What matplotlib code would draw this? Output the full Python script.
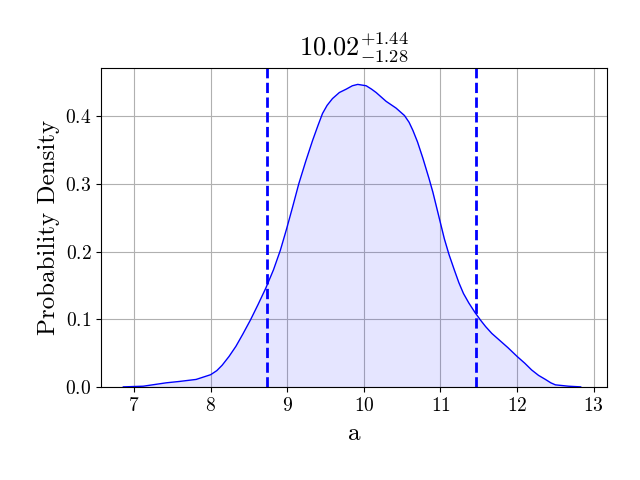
import matplotlib
matplotlib.use("Agg")
import matplotlib.pyplot as plt

plt.rcParams['font.family'] = 'serif'
plt.rcParams['font.serif'] = ['cmr10']
plt.rcParams['mathtext.fontset'] = 'cm'
plt.rcParams['axes.formatter.use_mathtext'] = True

# KDE curve
x_vals = [6.86, 7.12, 7.42, 7.59, 7.81, 8.0, 8.08, 8.15, 8.24, 8.33, 8.42, 8.52,
          8.62, 8.72, 8.82, 8.91, 8.99, 9.07, 9.15, 9.24, 9.33, 9.40, 9.46,
          9.52, 9.59, 9.68, 9.77, 9.85, 9.92, 10.03, 10.10, 10.16, 10.29, 10.42,
          10.53, 10.59, 10.64, 10.70, 10.77, 10.85, 10.90, 10.95, 11.0, 11.05,
          11.11, 11.18, 11.24, 11.30, 11.37, 11.45, 11.52, 11.59, 11.67, 11.76,
          11.88, 12.0, 12.10, 12.19, 12.28, 12.37, 12.44, 12.50, 12.67, 12.83]
density = [0.0, 0.001, 0.006, 0.008, 0.011, 0.018, 0.024, 0.032, 0.045, 0.060,
           0.078, 0.099, 0.122, 0.146, 0.173, 0.202, 0.233, 0.266, 0.300, 0.333,
           0.364, 0.386, 0.404, 0.416, 0.426, 0.435, 0.440, 0.445, 0.447, 0.445,
           0.440, 0.435, 0.422, 0.412, 0.401, 0.391, 0.379, 0.362, 0.338, 0.308,
           0.288, 0.265, 0.242, 0.219, 0.196, 0.173, 0.154, 0.138, 0.124, 0.110,
           0.099, 0.089, 0.079, 0.070, 0.058, 0.045, 0.035, 0.025, 0.017, 0.011,
           0.006, 0.003, 0.001, 0.0]

median = 10.02
err_hi = 1.44
err_lo = 1.28

fig, ax = plt.subplots(figsize=(6.4, 4.8))
fig.subplots_adjust(left=0.158, right=0.948, bottom=0.194, top=0.858)

ax.plot(x_vals, density, color='blue', lw=1)
ax.fill_between(x_vals, density, color='blue', alpha=0.1, lw=0)
ax.axvline(median - err_lo, color='blue', ls='--', lw=2)
ax.axvline(median + err_hi, color='blue', ls='--', lw=2)

ax.set_xlim(6.57, 13.17)
ax.set_ylim(0, 0.471)
ax.set_xticks([7, 8, 9, 10, 11, 12, 13])
ax.set_yticks([0.0, 0.1, 0.2, 0.3, 0.4])
ax.tick_params(labelsize=14)
ax.grid(True)
ax.set_axisbelow(True)

ax.set_xlabel('a', fontsize=18, labelpad=6)
ax.set_ylabel('Probability Density', fontsize=18)
ax.set_title(r'$%.2f^{+%.2f}_{-%.2f}$' % (median, err_hi, err_lo), fontsize=19, pad=9)

fig.savefig('out.png', dpi=100)
